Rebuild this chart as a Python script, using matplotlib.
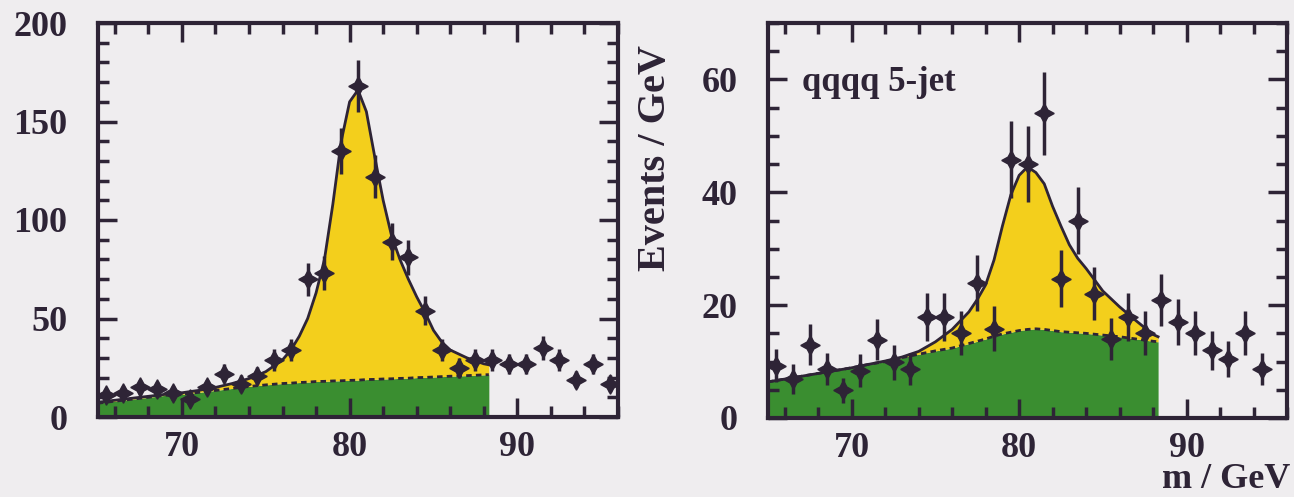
import matplotlib.pyplot as plt
from matplotlib.ticker import MultipleLocator

# left panel (qqqq 4-jet), 1 GeV bins
bins_left = [65.5, 66.5, 67.5, 68.5, 69.5, 70.5, 71.5, 72.5, 73.5, 74.5, 75.5,
             76.5, 77.5, 78.5, 79.5, 80.5, 81.5, 82.5, 83.5, 84.5, 85.5, 86.5,
             87.5, 88.5, 89.5, 90.5, 91.5, 92.5, 93.5, 94.5, 95.5]
counts_left = [11, 12, 15, 14, 12, 9, 15, 22, 17, 21, 29, 34, 70, 73, 135, 168,
               122, 89, 81, 54, 34, 25, 29, 29, 27, 27, 35, 29, 19, 27, 17]
errs_left = [3.3, 3.5, 3.9, 3.7, 3.5, 3.0, 3.9, 4.7, 4.1, 4.6, 5.4, 5.8, 8.4,
             8.5, 11.6, 13.0, 11.0, 9.4, 9.0, 7.3, 5.8, 5.0, 5.4, 5.4, 5.2, 5.2,
             5.9, 5.4, 4.4, 5.2, 4.1]

fit_m_left = [65, 66, 67, 68, 69, 70, 71, 72, 73, 74, 75, 76, 76.5, 77, 77.5,
              78, 78.5, 79, 79.5, 80, 80.5, 81, 81.5, 82, 82.5, 83, 83.5, 84,
              84.5, 85, 85.5, 86, 87, 88, 88.3]
fit_total_left = [7.5, 8.5, 9.5, 10.5, 11.5, 12.3, 13.5, 15, 17, 19.5, 23, 29,
                  34, 41, 50, 63, 80, 108, 140, 160, 166, 155, 132, 110, 92, 80,
                  70, 61, 53, 44, 38, 34, 30, 27, 26.5]
fit_bkg_left = [7, 8, 9, 10, 11, 11.5, 12.5, 13.5, 14.5, 15.5, 16.3, 17, 17.2,
                17.5, 17.7, 18, 18.1, 18.3, 18.4, 18.6, 18.7, 19, 19.1, 19.3,
                19.4, 19.6, 19.7, 20, 20.1, 20.3, 20.5, 20.7, 21, 21.4, 21.5]

# right panel (qqqq 5-jet)
bins_right = [65.5, 66.5, 67.5, 68.5, 69.5, 70.5, 71.5, 72.5, 73.5, 74.5, 75.5,
              76.5, 77.5, 78.5, 79.5, 80.5, 81.5, 82.5, 83.5, 84.5, 85.5, 86.5,
              87.5, 88.5, 89.5, 90.5, 91.5, 92.5, 93.5, 94.5]
counts_right = [9.3, 6.9, 13, 8.7, 4.9, 8.4, 13.9, 9.9, 8.7, 17.9, 17.9, 15,
                23.9, 15.8, 45.8, 45, 54, 24.7, 35, 22, 14, 17.9, 15, 20.9, 17,
                15, 12, 10.5, 15, 8.7]
errs_right = [3.0, 2.6, 3.6, 2.9, 2.2, 2.9, 3.7, 3.1, 2.9, 4.2, 4.2, 3.9, 4.9,
              4.0, 6.8, 6.7, 7.4, 5.0, 5.9, 4.7, 3.7, 4.2, 3.9, 4.6, 4.1, 3.9,
              3.5, 3.2, 3.9, 2.9]

fit_m_right = [65, 66, 67, 68, 69, 70, 71, 72, 73, 74, 75, 76, 77, 77.5, 78,
               78.5, 79, 79.5, 80, 80.5, 81, 81.5, 82, 82.5, 83, 83.5, 84, 85,
               86, 87, 88, 88.3]
fit_total_right = [6.4, 6.9, 7.4, 7.9, 8.4, 8.9, 9.5, 10.1, 10.8, 11.8, 13.5,
                   15.7, 18.8, 21, 23.6, 28, 34, 39.5, 43, 44.5, 43.5, 41.5,
                   37.5, 34, 30.7, 28.3, 26.5, 22.5, 19.7, 17.2, 14.8, 14.4]
fit_bkg_right = [6.4, 6.9, 7.4, 7.9, 8.4, 8.9, 9.5, 10.0, 10.7, 11.3, 11.9,
                 12.4, 13.2, 13.6, 14.0, 14.5, 14.9, 15.2, 15.5, 15.7, 15.8, 15.7,
                 15.5, 15.3, 15.2, 15.1, 15.0, 14.7, 14.4, 14.0, 13.6, 13.5]

ink = '#2e2436'
yellow = '#f3cf1c'
green = '#3a8e30'
bg = '#efedef'

plt.rcParams['font.family'] = 'Liberation Serif'
plt.rcParams['font.weight'] = 'bold'

fig = plt.figure(figsize=(12.94, 4.97), dpi=100, facecolor=bg)
ax1 = fig.add_axes([98 / 1294, 80 / 497, 520 / 1294, 394 / 497])
ax2 = fig.add_axes([768 / 1294, 79 / 497, 519 / 1294, 395 / 497])


def panel(ax, m, tot, bkg, xb, yb, eb, ymax, ymaj, ymin):
    ax.set_facecolor(bg)
    ax.fill_between(m, 0, bkg, color=green, lw=0)
    ax.fill_between(m, bkg, tot, color=yellow, lw=0)
    ax.plot(m, bkg, color=ink, lw=2, ls=(0, (2, 1.5)))
    ax.plot(m, tot, color=ink, lw=2)
    ax.errorbar(xb, yb, yerr=eb, fmt='none', ecolor=ink, elinewidth=2.5)
    ax.plot(xb, yb, ls='none', marker=(4, 1, 0), ms=14, color=ink)
    ax.set_xlim(65, 96)
    ax.set_ylim(0, ymax)
    ax.xaxis.set_major_locator(MultipleLocator(10))
    ax.xaxis.set_minor_locator(MultipleLocator(2))
    ax.yaxis.set_major_locator(MultipleLocator(ymaj))
    ax.yaxis.set_minor_locator(MultipleLocator(ymin))
    ax.tick_params(which='both', direction='in', top=True, right=True,
                   color=ink, width=2.5, labelsize=26, labelcolor=ink)
    ax.tick_params(which='major', length=14)
    ax.tick_params(which='minor', length=8)
    ax.tick_params(axis='y', pad=22)
    ax.tick_params(axis='x', pad=10)
    for s in ax.spines.values():
        s.set_linewidth(3)
        s.set_color(ink)


panel(ax1, fit_m_left, fit_total_left, fit_bkg_left,
      bins_left, counts_left, errs_left, 200, 50, 10)
panel(ax2, fit_m_right, fit_total_right, fit_bkg_right,
      bins_right, counts_right, errs_right, 70, 20, 5)

ax2.text(0.065, 0.85, 'qqqq 5-jet', transform=ax2.transAxes, fontsize=25,
         color=ink, va='center', ha='left')
fig.text(655 / 1294, 1 - 158 / 497, 'Events / GeV', rotation=90, fontsize=29,
         color=ink, ha='center', va='center')
fig.text(1290 / 1294, 1 - 480 / 497, 'm / GeV', fontsize=26, color=ink,
         ha='right', va='center')

fig.savefig('out.png', dpi=100, facecolor=bg)
